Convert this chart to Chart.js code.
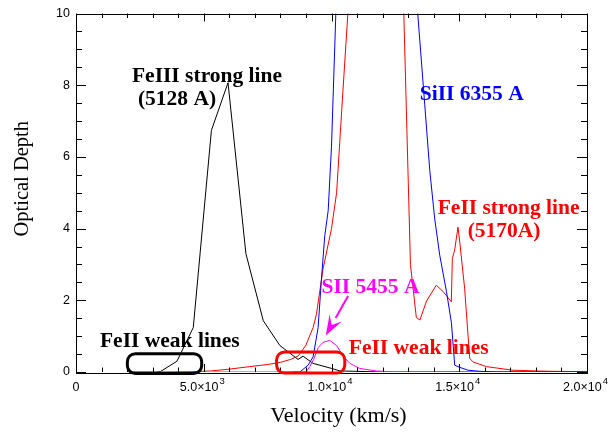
<!DOCTYPE html>
<html>
<head>
<meta charset="utf-8">
<script src="https://cdn.jsdelivr.net/npm/chart.js@4.4.0/dist/chart.umd.min.js"></script>
<style>
  html, body { margin: 0; padding: 0; background: #fff; }
</style>
</head>
<body>
<canvas id="chartCanvas" width="614" height="436"></canvas>
<script>
// Optical depth vs velocity

// FeIII strong line (5128 A) - black
const feIIIVel = [2100, 3150, 3300, 3950, 4590, 5300, 5950, 6650, 7330, 7980, 8690, 8890, 9280, 10000, 10330, 12000, 20000];
const feIIITau = [0, 0, 0.01, 0.3, 1.24, 6.74, 8.07, 3.3, 1.43, 0.74, 0.35, 0.44, 0.24, 0.1, 0.03, 0, 0];

// FeII strong line (5170A) - red
const feIIVel = [3150, 4500, 5300, 6000, 6800, 7500, 8000, 8400, 8700, 9000, 9280, 9410, 9670, 10000, 10200, 10400, 10640, 11000, 11800, 12600, 12830, 13090, 13320, 13460, 13720, 14100, 14360, 14690, 14730, 14820, 14950, 15020, 15210, 15410, 15540, 16060, 17100, 18500, 20000];
const feIITau = [0, 0.01, 0.03, 0.08, 0.15, 0.21, 0.27, 0.35, 0.45, 0.75, 1.24, 1.61, 2.88, 4.0, 5.0, 7.3, 10, 14, 17, 16, 10, 3.0, 1.52, 1.45, 1.98, 2.42, 2.25, 1.96, 3.17, 3.4, 4.04, 3.63, 2.34, 0.38, 0.28, 0.15, 0.05, 0.02, 0.01];

// SiII 6355 A - blue
const siIIVel = [8500, 8760, 9085, 9280, 9476, 9609, 9738, 9870, 10000, 10170, 10400, 12000, 13100, 13375, 13648, 13844, 14040, 14236, 14498, 14693, 14822, 15018, 15342, 15800, 16500, 20000];
const siIITau = [0, 0, 0.19, 0.42, 1.24, 2.62, 3.81, 4.5, 6.3, 10, 15, 20, 12.5, 10, 7.47, 5.64, 4.27, 3.26, 2.25, 1.38, 0.19, 0.13, 0.05, 0.02, 0, 0];

// SII 5455 A - magenta
const sIIVel = [5300, 9000, 9150, 9300, 9480, 9670, 9930, 10200, 10450, 10720, 11100, 11750, 12500, 15000];
const sIITau = [0, 0, 0.15, 0.35, 0.68, 0.83, 0.88, 0.74, 0.45, 0.24, 0.1, 0.03, 0, 0];

// axes
const xTickValues = [0, 5000, 10000, 15000, 20000];
const xTickBase = ['0', '5.0×10', '1.0×10', '1.5×10', '2.0×10'];
const xTickExp = ['', '3', '4', '4', '4'];
const yTickValues = [0, 2, 4, 6, 8, 10];
const yTickLabels = ['0', '2', '4', '6', '8', '10'];
const xTitle = 'Velocity (km/s)';
const yTitle = 'Optical Depth';

// text labels on the plot, anchored in data units (left edge, baseline)
const notes = [
    { text: 'FeIII strong line', x: 2190, y: 8.1, color: '#000000' },
    { text: '(5128 A)', x: 2425, y: 7.45, color: '#000000' },
    { text: 'SiII 6355 A', x: 13453, y: 7.58, color: '#0000ff' },
    { text: 'FeII strong line', x: 14157, y: 4.42, color: '#ff0000' },
    { text: '(5170A)', x: 15330, y: 3.76, color: '#ff0000' },
    { text: 'SII 5455 A', x: 9609, y: 2.21, color: '#ff00ff' },
    { text: 'FeII weak lines', x: 10677, y: 0.51, color: '#ff0000' },
    { text: 'FeII weak lines', x: 939, y: 0.71, color: '#000000' }
];

// boxes around the weak line regions: [x0, x1, y0, y1] in data units
const boxes = [
    { box: [2010, 4920, -0.04, 0.51], color: '#000000' },
    { box: [7850, 10520, -0.03, 0.56], color: '#ff0000' }
];

const toPoints = (xs, ys) => xs.map((v, i) => ({ x: v, y: ys[i] }));

function roundBox(ctx, x0, y0, x1, y1, r) {
    ctx.beginPath();
    ctx.moveTo(x0 + r, y0);
    ctx.lineTo(x1 - r, y0);
    ctx.arcTo(x1, y0, x1, y0 + r, r);
    ctx.lineTo(x1, y1 - r);
    ctx.arcTo(x1, y1, x1 - r, y1, r);
    ctx.lineTo(x0 + r, y1);
    ctx.arcTo(x0, y1, x0, y1 - r, r);
    ctx.lineTo(x0, y0 + r);
    ctx.arcTo(x0, y0, x0 + r, y0, r);
    ctx.closePath();
    ctx.stroke();
}

const tickFont = '"Liberation Sans", "DejaVu Sans", sans-serif';
const serifFont = '"Liberation Serif", "DejaVu Serif", serif';

// frame, inward ticks, x tick labels with exponents, titles, labels, boxes and arrow
const overlay = {
    id: 'overlay',
    afterDatasetsDraw(chart) {
        const ctx = chart.ctx;
        const a = chart.chartArea;
        const x = chart.scales.x;
        const y = chart.scales.y;
        ctx.save();

        ctx.strokeStyle = '#000';
        ctx.lineWidth = 1;
        ctx.strokeRect(Math.round(a.left) + 0.5, Math.round(a.top) + 0.5,
            Math.round(a.right - a.left), Math.round(a.bottom - a.top));

        ctx.beginPath();
        for (let v = 0; v <= 20000; v += 1000) {
            const px = Math.round(x.getPixelForValue(v)) + 0.5;
            const len = v % 5000 === 0 ? 8 : 4.5;
            ctx.moveTo(px, a.bottom); ctx.lineTo(px, a.bottom - len);
            ctx.moveTo(px, a.top); ctx.lineTo(px, a.top + len);
        }
        for (let v = 0; v <= 10; v += 0.5) {
            const py = Math.round(y.getPixelForValue(v)) + 0.5;
            const len = v % 2 === 0 ? 10 : 6;
            ctx.moveTo(a.left, py); ctx.lineTo(a.left + len, py);
            ctx.moveTo(a.right, py); ctx.lineTo(a.right - len, py);
        }
        ctx.stroke();

        // x tick labels: mantissa and raised exponent
        ctx.fillStyle = '#000';
        ctx.textAlign = 'left';
        ctx.textBaseline = 'alphabetic';
        xTickValues.forEach((v, i) => {
            ctx.font = '12.5px ' + tickFont;
            const wb = ctx.measureText(xTickBase[i]).width;
            ctx.font = '9.5px ' + tickFont;
            const we = xTickExp[i] ? ctx.measureText(xTickExp[i]).width + 1 : 0;
            const left = x.getPixelForValue(v) - (wb + we) / 2 - (we ? 1.5 : 0);
            ctx.font = '12.5px ' + tickFont;
            ctx.fillText(xTickBase[i], left, a.bottom + 18.5);
            if (we) {
                ctx.font = '9.5px ' + tickFont;
                ctx.fillText(xTickExp[i], left + wb + 1, a.bottom + 11.5);
            }
        });

        // axis titles
        ctx.font = '22px ' + serifFont;
        ctx.textAlign = 'center';
        ctx.textBaseline = 'middle';
        ctx.fillText(xTitle, (a.left + a.right) / 2 + 7, 416);
        ctx.save();
        ctx.translate(23, (a.top + a.bottom) / 2 - 14);
        ctx.rotate(-Math.PI / 2);
        ctx.font = '20.5px ' + serifFont;
        ctx.fillText(yTitle, 0, 0);
        ctx.restore();

        ctx.lineWidth = 3;
        boxes.forEach(b => {
            ctx.strokeStyle = b.color;
            roundBox(ctx, x.getPixelForValue(b.box[0]), y.getPixelForValue(b.box[3]),
                x.getPixelForValue(b.box[1]), y.getPixelForValue(b.box[2]), 8);
        });

        ctx.font = 'bold 21.5px ' + serifFont;
        ctx.textAlign = 'left';
        ctx.textBaseline = 'alphabetic';
        notes.forEach(n => {
            ctx.fillStyle = n.color;
            ctx.fillText(n.text, x.getPixelForValue(n.x), y.getPixelForValue(n.y));
        });

        // magenta arrow pointing at the SII bump
        const tx = x.getPixelForValue(10649), ty = y.getPixelForValue(2.12);
        const hx = x.getPixelForValue(9777), hy = y.getPixelForValue(1.02);
        const ang = Math.atan2(hy - ty, hx - tx);
        const headLen = 20, headW = 7;
        const bx = hx - headLen * Math.cos(ang), by = hy - headLen * Math.sin(ang);
        ctx.strokeStyle = '#ff00ff';
        ctx.fillStyle = '#ff00ff';
        ctx.lineWidth = 2;
        ctx.beginPath();
        ctx.moveTo(tx, ty);
        ctx.lineTo(bx, by);
        ctx.stroke();
        ctx.beginPath();
        ctx.moveTo(hx, hy);
        ctx.lineTo(bx + headW * Math.sin(ang), by - headW * Math.cos(ang));
        ctx.lineTo(hx - 12 * Math.cos(ang), hy - 12 * Math.sin(ang));
        ctx.lineTo(bx - headW * Math.sin(ang), by + headW * Math.cos(ang));
        ctx.closePath();
        ctx.fill();

        ctx.restore();
    }
};

const lineStyle = { showLine: true, pointRadius: 0, borderWidth: 1, tension: 0, fill: false };

new Chart(document.getElementById('chartCanvas'), {
    type: 'scatter',
    data: {
        datasets: [
            Object.assign({ label: 'SII 5455 A', data: toPoints(sIIVel, sIITau), borderColor: '#ff00ff', order: 1 }, lineStyle),
            Object.assign({ label: 'SiII 6355 A', data: toPoints(siIIVel, siIITau), borderColor: '#0000ff', order: 2 }, lineStyle),
            Object.assign({ label: 'FeII 5170A', data: toPoints(feIIVel, feIITau), borderColor: '#ff0000', order: 3 }, lineStyle),
            Object.assign({ label: 'FeIII 5128 A', data: toPoints(feIIIVel, feIIITau), borderColor: '#000000', order: 4 }, lineStyle)
        ]
    },
    options: {
        responsive: false,
        animation: false,
        layout: { padding: { top: 8, right: 27, left: 0, bottom: 0 } },
        plugins: { legend: { display: false }, tooltip: { enabled: false } },
        scales: {
            x: {
                type: 'linear',
                min: 0,
                max: 20000,
                afterBuildTicks: s => { s.ticks = xTickValues.map(v => ({ value: v })); },
                afterFit: s => { s.height = 64; },
                ticks: { display: false },
                grid: { display: false, drawTicks: false },
                border: { display: false }
            },
            y: {
                type: 'linear',
                min: 0,
                max: 10,
                afterBuildTicks: s => { s.ticks = yTickValues.map(v => ({ value: v })); },
                afterFit: s => { s.width = 76; },
                ticks: {
                    autoSkip: false,
                    padding: 6,
                    color: '#000',
                    font: { family: tickFont, size: 12.5 },
                    callback: v => yTickLabels[yTickValues.indexOf(v)]
                },
                grid: { display: false, drawTicks: false },
                border: { display: false }
            }
        }
    },
    plugins: [overlay]
});
</script>
</body>
</html>
